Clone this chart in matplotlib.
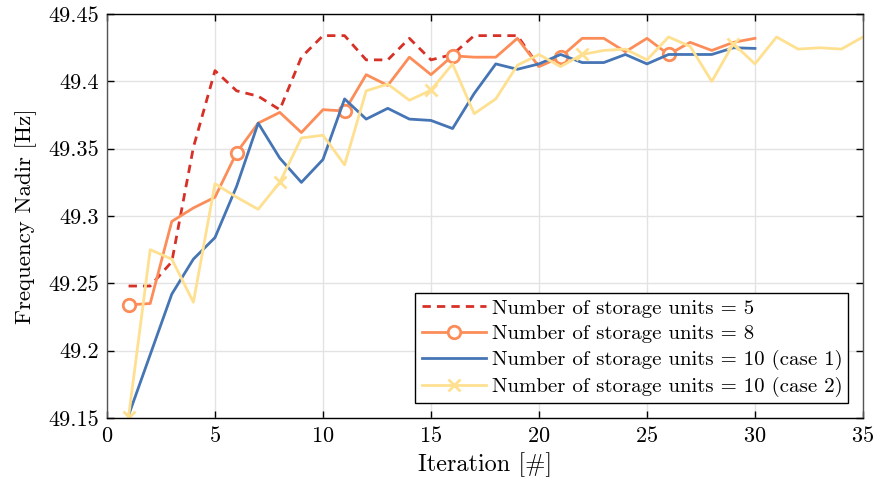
import matplotlib
matplotlib.use("Agg")
import matplotlib.pyplot as plt

plt.rcParams['font.family'] = ['cmr10', 'DejaVu Serif']
plt.rcParams['mathtext.fontset'] = 'cm'
plt.rcParams['axes.formatter.use_mathtext'] = True

# Datos
it5 = list(range(1, 21))
nadir5 = [49.248, 49.248, 49.266, 49.351, 49.408, 49.393, 49.389, 49.379, 49.418, 49.434,
          49.434, 49.416, 49.416, 49.432, 49.416, 49.420, 49.434, 49.434, 49.434, 49.411]

it8 = list(range(1, 31))
nadir8 = [49.234, 49.235, 49.296, 49.306, 49.314, 49.347, 49.369, 49.377, 49.362, 49.379,
          49.378, 49.405, 49.397, 49.418, 49.405, 49.419, 49.418, 49.418, 49.432, 49.411,
          49.418, 49.432, 49.432, 49.422, 49.432, 49.420, 49.429, 49.423, 49.429, 49.432]

it10a = list(range(1, 31))
nadir10a = [49.152, 49.197, 49.242, 49.268, 49.284, 49.322, 49.369, 49.343, 49.325, 49.342,
            49.387, 49.372, 49.380, 49.372, 49.371, 49.365, 49.391, 49.413, 49.409, 49.413,
            49.420, 49.414, 49.414, 49.420, 49.413, 49.420, 49.420, 49.420, 49.425, 49.4245]

it10b = list(range(1, 36))
nadir10b = [49.151, 49.275, 49.268, 49.236, 49.324, 49.314, 49.305, 49.325, 49.358, 49.360,
            49.338, 49.393, 49.398, 49.386, 49.3935, 49.413, 49.376, 49.387, 49.412, 49.420,
            49.411, 49.420, 49.423, 49.424, 49.416, 49.433, 49.426, 49.400, 49.428, 49.413,
            49.433, 49.424, 49.425, 49.424, 49.433]

fig = plt.figure(figsize=(8.77, 4.86), dpi=100)
ax = fig.add_axes([0.122, 0.140, 0.862, 0.831])

ax.plot(it5, nadir5, '--', color='#d73027', lw=2, dashes=(3, 2.2),
        label='Number of storage units = 5')
ax.plot(it8, nadir8, '-o', color='#fc8d59', lw=2, markevery=5, ms=9,
        mfc='white', mew=2, label='Number of storage units = 8')
ax.plot(it10a, nadir10a, '-', color='#4575b4', lw=2,
        label='Number of storage units = 10 (case 1)')
ax.plot(it10b, nadir10b, '-x', color='#fee090', lw=2, markevery=7, ms=8, mew=2,
        label='Number of storage units = 10 (case 2)')

ax.set_xlim(0, 35)
ax.set_ylim(49.15, 49.45)
ax.set_xticks(range(0, 36, 5))
ax.set_yticks([49.15, 49.2, 49.25, 49.3, 49.35, 49.4, 49.45])
ax.set_yticklabels(['49.15', '49.2', '49.25', '49.3', '49.35', '49.4', '49.45'])
ax.grid(True, color='#e3e3e3', lw=1)
ax.set_axisbelow(True)
ax.tick_params(direction='in', top=True, right=True, labelsize=16, length=5, width=1, pad=6)
for s in ax.spines.values():
    s.set_linewidth(1)
ax.spines['left'].set_color('#555555')
ax.spines['right'].set_color('#555555')
ax.set_xlabel('Iteration [#]', fontsize=17.5, labelpad=4)
ax.set_ylabel('Frequency Nadir [Hz]', fontsize=16.5, labelpad=8)

leg = ax.legend(loc='lower right', fontsize=15, fancybox=False, framealpha=1,
                edgecolor='black', borderpad=0.3, labelspacing=0.33,
                handlelength=3.1, handletextpad=0.25, borderaxespad=0.7)
leg.get_frame().set_linewidth(1)

fig.savefig('out.png', dpi=100)
